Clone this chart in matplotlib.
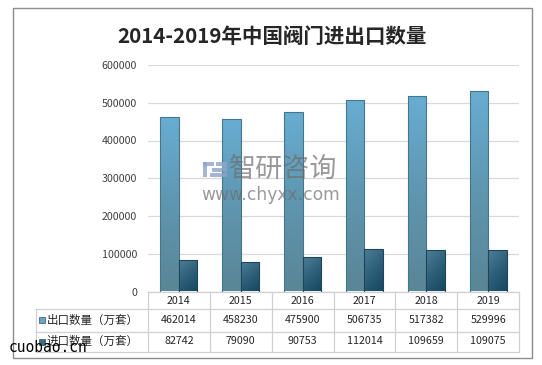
import matplotlib
matplotlib.use("Agg")
import matplotlib.pyplot as plt
import numpy as np
from matplotlib.patches import Rectangle
from matplotlib.colors import LinearSegmentedColormap

plt.rcParams['font.family'] = ['Noto Sans CJK SC', 'DejaVu Sans']

years = ['2014', '2015', '2016', '2017', '2018', '2019']
export_vals = [462014, 458230, 475900, 506735, 517382, 529996]
import_vals = [82742, 79090, 90753, 112014, 109659, 109075]
series_names = ['出口数量（万套）', '进口数量（万套）']
title = '2014-2019年中国阀门进出口数量'
yticks = [0, 100000, 200000, 300000, 400000, 500000, 600000]

W, H = 542, 365
fig = plt.figure(figsize=(W / 100, H / 100), dpi=100)

def fx(px):
    return px / W

def fy(py):
    return 1 - py / H

# outer border
fig.patches.append(Rectangle((fx(12.5), fy(358)), fx(532) - fx(12.5), fy(8) - fy(358),
                             transform=fig.transFigure, fill=False, edgecolor='#8c8c8c', lw=1.0))

fig.text(fx(272), fy(36.5), title, ha='center', va='center', fontsize=14.8,
         fontweight='bold', color='#262626')

x0, x1, ytop, ybot = 148, 519, 65, 291.5
ax = fig.add_axes([fx(x0), fy(ybot), fx(x1) - fx(x0), fy(ytop) - fy(ybot)])
ax.set_xlim(-0.5, len(years) - 0.5)
ax.set_ylim(0, 600000)
for s in ax.spines.values():
    s.set_visible(False)
ax.set_xticks([])
ax.set_yticks(yticks)
ax.set_yticklabels([str(v) for v in yticks], fontsize=7.7, color='#404040')
ax.tick_params(axis='y', length=0, pad=8)
ax.grid(axis='y', color='#d9d9d9', lw=0.9)
ax.set_axisbelow(True)
ax.patch.set_alpha(0)

x = np.arange(len(years))
bw = 0.3
cm_exp = LinearSegmentedColormap.from_list('e', ['#5a8696', '#5f96b0', '#68add2'])
cm_imp = LinearSegmentedColormap.from_list('i', ['#164760', '#2f6079', '#4d7f99'])

bars_e = ax.bar(x - bw / 2, export_vals, bw, color='none', edgecolor='#44778c', lw=0.8, zorder=3)
bars_i = ax.bar(x + bw / 2, import_vals, bw, color='none', edgecolor='#1e4559', lw=0.8, zorder=3)

grad_v = np.linspace(0, 1, 100).reshape(-1, 1)
for b in bars_e:
    xx, yy, w, h = b.get_x(), b.get_y(), b.get_width(), b.get_height()
    im = ax.imshow(grad_v, cmap=cm_exp, origin='lower', aspect='auto',
                   extent=[xx, xx + w, yy, yy + h], zorder=2)
    im.set_clip_path(b)
gi = np.add.outer(np.linspace(0, 1, 100), (1 - np.linspace(0, 1, 30)) * 0.5) / 1.5
for b in bars_i:
    xx, yy, w, h = b.get_x(), b.get_y(), b.get_width(), b.get_height()
    im = ax.imshow(gi, cmap=cm_imp, origin='lower', aspect='auto',
                   extent=[xx, xx + w, yy, yy + h], zorder=2)
    im.set_clip_path(b)
ax.set_xlim(-0.5, len(years) - 0.5)
ax.set_ylim(0, 600000)

# watermark
logo_c = '#8ea4c9'
def R(px0, py0, px1, py1, c=logo_c):
    fig.patches.append(Rectangle((fx(px0), fy(py1)), fx(px1) - fx(px0), fy(py0) - fy(py1),
                                 transform=fig.transFigure, facecolor=c, alpha=0.8,
                                 edgecolor='none', zorder=5))
R(203, 162, 214, 166)
R(203, 162, 207, 177)
R(216, 162, 227, 166)
R(222, 162, 227, 170)
R(212, 168, 227, 172)
R(210, 173, 227, 177)
fig.text(fx(229), fy(169.5), '智研咨询', ha='left', va='center', fontsize=19.5,
         color='#6e6e6e', alpha=0.7, zorder=6)
fig.text(fx(271), fy(195), 'www.chyxx.com', ha='center', va='center', fontsize=12.3,
         color='#6e6e6e', alpha=0.7, family='DejaVu Sans', zorder=6)

# data table
cols = list(np.linspace(148, 519, 7))
lc = '#d0d0d0'
def L(xs, ys):
    fig.add_artist(plt.Line2D([fx(v) for v in xs], [fy(v) for v in ys],
                              transform=fig.transFigure, color=lc, lw=0.9))
L([148, 519], [292, 292])
L([36, 519], [309, 309])
L([36, 519], [331.5, 331.5])
L([36, 519], [352, 352])
for c in cols:
    L([c, c], [292, 352])
L([36, 36], [309, 352])

for i, yv in enumerate(years):
    cx = (cols[i] + cols[i + 1]) / 2
    fig.text(fx(cx), fy(300.5), yv, ha='center', va='center', fontsize=7.7, color='#262626')
    fig.text(fx(cx), fy(320), str(export_vals[i]), ha='center', va='center', fontsize=7.7, color='#262626')
    fig.text(fx(cx), fy(341.5), str(import_vals[i]), ha='center', va='center', fontsize=7.7, color='#262626')

sw_colors = ['#6aa5c4', '#3c6a82']
for j, (name, ry) in enumerate(zip(series_names, [320, 341.5])):
    fig.patches.append(Rectangle((fx(39), fy(ry + 3)), fx(6), fy(0) - fy(6),
                                 transform=fig.transFigure, facecolor=sw_colors[j],
                                 edgecolor='#2f5566', lw=0.5))
    fig.text(fx(47), fy(ry), name, ha='left', va='center', fontsize=8.3, color='#262626')

fig.text(fx(9), fy(348), 'cuobao.cn', ha='left', va='center', fontsize=10.5,
         color='black', family='DejaVu Sans Mono', zorder=10)

fig.savefig('out.png', dpi=100)
